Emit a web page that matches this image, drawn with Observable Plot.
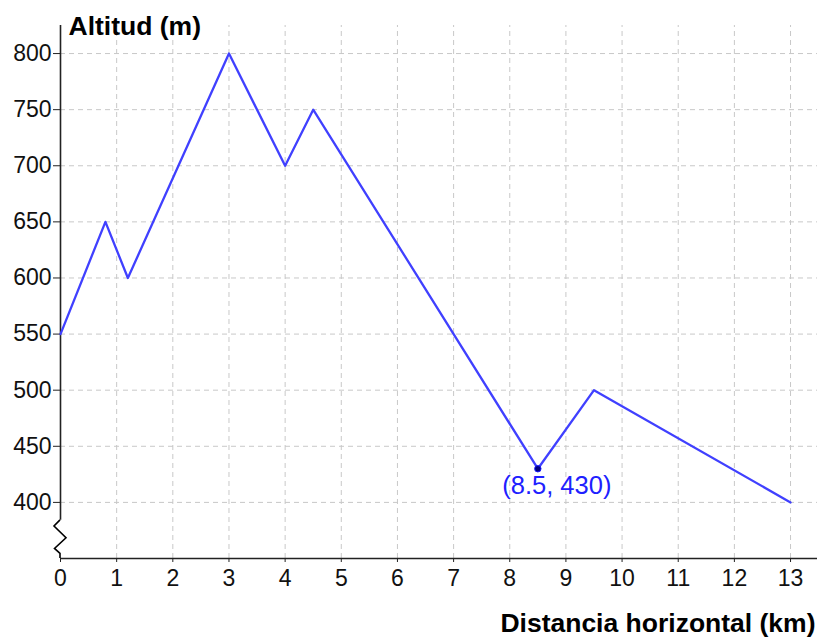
<!DOCTYPE html>
<html><head><meta charset="utf-8">
<script src="https://cdn.jsdelivr.net/npm/d3@7"></script>
<script src="https://cdn.jsdelivr.net/npm/@observablehq/plot@0.6"></script>
<style>body{margin:0;background:#fff} svg{display:block}</style>
</head><body><div id="chart"></div>
<script>
const distance = [0, 0.8, 1.2, 3, 4, 4.5, 8.5, 9.5, 13];
const altitude = [550, 650, 600, 800, 700, 750, 430, 500, 400];
const xTicks = [0,1,2,3,4,5,6,7,8,9,10,11,12,13];
const yTicks = [400,450,500,550,600,650,700,750,800];
const highlightX = [8.5];
const highlightY = [430];
const highlightLabel = ["(8.5, 430)"];
const yTitle = "Altitud (m)";
const xTitle = "Distancia horizontal (km)";

const data = distance.map((d, i) => ({x: d, y: altitude[i]}));
const hl = highlightX.map((d, i) => ({x: d, y: highlightY[i], label: highlightLabel[i]}));

const yMin = 350, yMax = 825, breakTop = 384, xMax = 13.48;
const font = "Liberation Sans, Arial, sans-serif";

function axisBreak(index, scales, values, dims) {
  const x0 = scales.x(0);
  const yT = scales.y(breakTop);
  const yB = dims.height - dims.marginBottom;
  const h = yB - yT;
  const pts = [[0, 0], [-6, h*0.16], [6, h*0.47], [-5.5, h*0.75], [0, h*0.88], [0, h]];
  const p = d3.line()(pts.map(([dx, dy]) => [x0 + dx, yT + dy]));
  const path = document.createElementNS("http://www.w3.org/2000/svg", "path");
  path.setAttribute("d", p);
  path.setAttribute("fill", "none");
  path.setAttribute("stroke", "#000");
  path.setAttribute("stroke-width", "1.6");
  return path;
}

const chart = Plot.plot({
  width: 828, height: 637,
  marginLeft: 60, marginRight: 11, marginTop: 25, marginBottom: 79,
  style: {fontFamily: font, background: "#fff", fontSize: "23px"},
  x: {type: "linear", domain: [0, xMax], axis: null},
  y: {type: "linear", domain: [yMin, yMax], axis: null},
  marks: [
    Plot.ruleX(xTicks.filter(d => d > 0), {x: d => d, y1: yMin, y2: yMax, stroke: "#c8c8c8", strokeDasharray: "5,4", strokeWidth: 1}),
    Plot.ruleY(yTicks, {y: d => d, x1: 0, x2: xMax, stroke: "#c8c8c8", strokeDasharray: "5,4", strokeWidth: 1}),
    Plot.ruleY([yMin], {y: d => d, stroke: "#222", strokeWidth: 1.6}),
    Plot.ruleX([0], {x: d => d, y1: breakTop, y2: yMax, stroke: "#222", strokeWidth: 1.6}),
    axisBreak,
    Plot.axisY({ticks: yTicks, tickSize: 7, tickPadding: 2, tickFormat: d => d, stroke: "#222", fill: "#111", label: null, anchor: "left"}),
    Plot.axisX({ticks: xTicks, tickSize: 4, tickPadding: 7, tickFormat: d => d, stroke: "#222", fill: "#111", label: null, anchor: "bottom"}),
    Plot.line(data, {x: "x", y: "y", stroke: "#4040ff", strokeWidth: 2.3}),
    Plot.dot(hl, {x: "x", y: "y", r: 3.2, fill: "#000080", stroke: "#1a1aff", strokeWidth: 1}),
    Plot.text(hl, {x: "x", y: "y", text: "label", dy: 17.5, dx: 19, fontSize: 25.5, fill: "#2020ff", textAnchor: "middle"}),
    Plot.text([yTitle], {frameAnchor: "top-left", dx: 8, dy: -9.5, fontSize: 26.5, fontWeight: "bold", fill: "#000", textAnchor: "start"}),
    Plot.text([xTitle], {frameAnchor: "bottom-right", dx: -2, dy: 73.5, fontSize: 26.5, fontWeight: "bold", fill: "#000", textAnchor: "end"})
  ]
});
document.getElementById("chart").appendChild(chart);
</script>
</body></html>
